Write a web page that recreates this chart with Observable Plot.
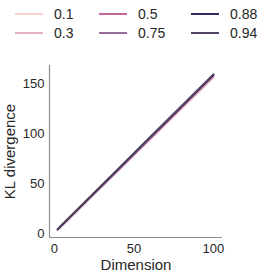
<!DOCTYPE html>
<html><head><meta charset="utf-8">
<script src="https://cdn.jsdelivr.net/npm/d3@7"></script>
<script src="https://cdn.jsdelivr.net/npm/@observablehq/plot@0.6"></script>
<style>
body{margin:0;background:#fff;font-family:"Liberation Sans",Arial,sans-serif;color:#262626;}
#wrap{position:relative;width:266px;height:276px;overflow:hidden;}
#legend{position:relative;width:266px;height:52px;}
.item{position:absolute;height:16px;font-size:14px;line-height:16px;}
.sw{position:absolute;top:7px;width:28px;height:2px;}
.lab{position:absolute;left:39px;top:0;white-space:nowrap;}
svg text{fill:#262626;}
</style></head>
<body><div id="wrap"><div id="legend"></div><div id="chart"></div></div>
<script>
const dims = [2,5,10,20,30,40,50,60,70,80,90,100];
const seriesNames = ["0.1","0.3","0.5","0.75","0.88","0.94"];
const colors = ["#f2d2cf","#e2b0bf","#c4679e","#9a6b9d","#36265f","#514462"];
const v01  = [3.6, 8.1, 15.9, 31.4, 46.9, 62.5, 78.1, 93.6, 109.2, 124.8, 140.3, 155.9];
const v03  = [3.8, 8.4, 16.2, 31.8, 47.4, 63.0, 78.6, 94.3, 109.9, 125.5, 141.1, 156.8];
const v05  = [3.9, 8.6, 16.4, 32.1, 47.8, 63.4, 79.1, 94.8, 110.5, 126.2, 141.8, 157.5];
const v075 = [4.1, 8.8, 16.6, 32.4, 48.1, 63.8, 79.5, 95.3, 111.0, 126.7, 142.4, 158.2];
const v088 = [4.2, 9.0, 16.9, 32.7, 48.4, 64.2, 80.0, 95.8, 111.5, 127.3, 143.1, 158.9];
const v094 = [4.3, 9.1, 17.0, 32.8, 48.6, 64.4, 80.2, 96.0, 111.8, 127.6, 143.4, 159.2];
const xTicks = [0,50,100];
const yTicks = [0,50,100,150];
const xDomain = [-3.1, 105.7];
const yDomain = [-4, 168];

const allVals = [v01,v03,v05,v075,v088,v094];
const data = [];
seriesNames.forEach((s,i)=>dims.forEach((d,j)=>data.push({series:s,dim:d,kl:allVals[i][j]})));

// legend
const leg = document.getElementById("legend");
const colX = [15,99,191], rowY = [6,25];
seriesNames.forEach((s,i)=>{
  const col = Math.floor(i/2), row = i%2;
  const it = document.createElement("div");
  it.className="item"; it.style.left=colX[col]+"px"; it.style.top=rowY[row]+"px";
  it.innerHTML=`<div class="sw" style="background:${colors[i]}"></div><div class="lab">${s}</div>`;
  leg.appendChild(it);
});

const chart = Plot.plot({
  width:266, height:224,
  marginTop:13, marginBottom:39, marginLeft:49, marginRight:44,
  style:{fontFamily:"Liberation Sans, Arial, sans-serif", fontSize:"13px", color:"#262626", background:"#fff"},
  x:{domain:xDomain, ticks:xTicks},
  y:{domain:yDomain, ticks:yTicks},
  color:{domain:seriesNames, range:colors},
  marks:[
    Plot.ruleX([xDomain[0]],{stroke:"#8c8c8c",strokeWidth:1.2}),
    Plot.ruleY([yDomain[0]],{stroke:"#8c8c8c",strokeWidth:1.2}),
    Plot.axisX({ticks:xTicks, tickSize:0, tickPadding:6, label:"Dimension", labelAnchor:"center", labelArrow:"none", labelOffset:32}),
    Plot.axisY({ticks:yTicks, tickSize:0, tickPadding:5, label:"KL divergence", labelAnchor:"center", labelArrow:"none", labelOffset:45}),
    Plot.line(data,{x:"dim",y:"kl",stroke:"series",z:"series",strokeWidth:1.9})
  ]
});
chart.querySelectorAll("text").forEach(t=>{
  const s = t.textContent;
  if (s==="Dimension" || s==="KL divergence") t.style.fontSize="15px";
  else t.style.fontSize="13px";
});
document.getElementById("chart").appendChild(chart);
</script></body></html>
